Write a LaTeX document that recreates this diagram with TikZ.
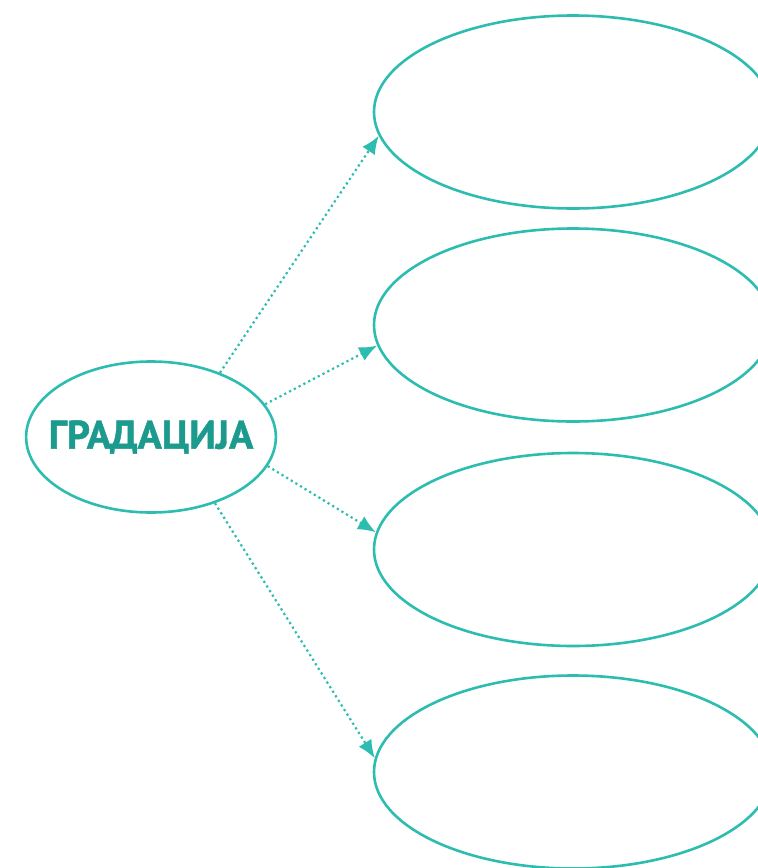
\documentclass[tikz,border=0pt]{standalone}
\usepackage{fontspec}
\setmainfont{PT Sans}
\usepackage{tikz}
\usetikzlibrary{calc,shapes,arrows.meta}
\definecolor{teal1}{HTML}{2CBDB0}
\definecolor{teal2}{HTML}{1B9A8D}
\tikzset{
  bubble/.style={ellipse, draw=teal1, line width=2.6pt, inner sep=0pt,
    minimum width=398pt, minimum height=193pt},
  hub/.style={ellipse, draw=teal1, line width=2.6pt, inner xsep=-14pt, inner ysep=0pt,
    minimum width=249pt, minimum height=151pt,
    font=\fontsize{40}{40}\selectfont\bfseries\addfontfeature{FakeBold=1.2}, text=teal2},
  link/.style={draw=teal1, line width=2.2pt, dash pattern=on 2.2pt off 3.2pt,
    -{Latex[length=18pt,width=15pt]}}
}
\begin{document}
\begin{tikzpicture}[x=1pt,y=-1pt]
        \useasboundingbox (0,0) rectangle (758,868);
        \clip (0,0) rectangle (758,868);
        \node[hub] (g) at (151,437) {ГРАДАЦИЈА};
        \foreach \n/\y in {1/112,2/325,3/549.5,4/772}
        \node[bubble] (e\n) at (573,\y) {};
        \foreach \n/\a/\b in {1/43/187,2/16/186,3/346/175,4/314/176}
        \draw[link] (g.\a) -- (e\n.\b);
    \end{tikzpicture}
\end{document}
